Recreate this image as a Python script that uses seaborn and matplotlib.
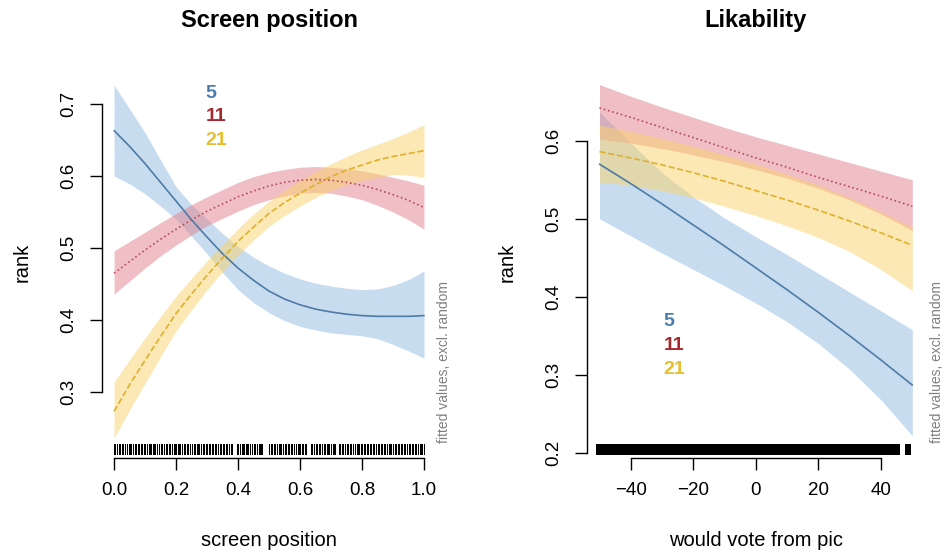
import matplotlib
matplotlib.use("Agg")
import matplotlib.pyplot as plt
import seaborn as sns

sns.set_theme(style="white")
plt.rcParams['font.family'] = ['Liberation Sans', 'DejaVu Sans']
plt.rcParams['text.color'] = 'black'
plt.rcParams['xtick.color'] = 'black'
plt.rcParams['ytick.color'] = 'black'

# ---- data: left panel (screen position) ----
pos_x = [0.00, 0.05, 0.10, 0.15, 0.20, 0.25, 0.30, 0.35, 0.40, 0.45, 0.50,
         0.55, 0.60, 0.65, 0.70, 0.75, 0.80, 0.85, 0.90, 0.95, 1.00]

pos_fit_5 = [0.663, 0.641, 0.617, 0.591, 0.565, 0.539, 0.515, 0.492, 0.472, 0.455, 0.440,
             0.429, 0.421, 0.415, 0.411, 0.408, 0.406, 0.405, 0.405, 0.405, 0.406]
pos_hi_5 = [0.726, 0.693, 0.660, 0.622, 0.585, 0.560, 0.540, 0.520, 0.502, 0.487, 0.475,
            0.465, 0.457, 0.451, 0.447, 0.444, 0.442, 0.443, 0.448, 0.456, 0.468]
pos_lo_5 = [0.600, 0.589, 0.575, 0.558, 0.540, 0.516, 0.492, 0.466, 0.442, 0.424, 0.410,
            0.399, 0.391, 0.386, 0.382, 0.380, 0.378, 0.374, 0.366, 0.357, 0.347]

pos_fit_11 = [0.465, 0.481, 0.497, 0.512, 0.526, 0.539, 0.551, 0.561, 0.571, 0.579, 0.586,
              0.591, 0.594, 0.595, 0.594, 0.591, 0.587, 0.581, 0.574, 0.566, 0.556]
pos_hi_11 = [0.496, 0.509, 0.522, 0.535, 0.548, 0.560, 0.571, 0.581, 0.591, 0.599, 0.605,
             0.609, 0.612, 0.613, 0.612, 0.610, 0.607, 0.603, 0.598, 0.593, 0.587]
pos_lo_11 = [0.436, 0.454, 0.472, 0.489, 0.504, 0.518, 0.531, 0.541, 0.551, 0.560, 0.567,
             0.572, 0.576, 0.577, 0.576, 0.572, 0.567, 0.559, 0.550, 0.539, 0.526]

pos_fit_21 = [0.273, 0.310, 0.344, 0.377, 0.409, 0.436, 0.462, 0.486, 0.509, 0.529, 0.548,
              0.563, 0.576, 0.588, 0.599, 0.608, 0.615, 0.622, 0.627, 0.631, 0.635]
pos_hi_21 = [0.314, 0.345, 0.375, 0.405, 0.433, 0.458, 0.482, 0.505, 0.527, 0.547, 0.565,
             0.580, 0.594, 0.606, 0.617, 0.627, 0.636, 0.644, 0.652, 0.661, 0.671]
pos_lo_21 = [0.236, 0.275, 0.312, 0.349, 0.385, 0.414, 0.442, 0.467, 0.490, 0.511, 0.530,
             0.545, 0.558, 0.570, 0.580, 0.588, 0.594, 0.598, 0.602, 0.601, 0.598]

pos_rug = [0.000, 0.004, 0.008, 0.015, 0.020, 0.026, 0.030, 0.036, 0.041, 0.047, 0.050,
           0.056, 0.060, 0.066, 0.070, 0.076, 0.081, 0.086, 0.090, 0.095, 0.100, 0.106,
           0.112, 0.117, 0.120, 0.125, 0.129, 0.133, 0.140, 0.144, 0.150, 0.155, 0.160,
           0.166, 0.170, 0.176, 0.180, 0.187, 0.192, 0.195, 0.200, 0.205, 0.209, 0.213,
           0.220, 0.226, 0.230, 0.236, 0.240, 0.245, 0.250, 0.257, 0.262, 0.266, 0.270,
           0.275, 0.281, 0.286, 0.290, 0.295, 0.300, 0.305, 0.310, 0.316, 0.320, 0.326,
           0.330, 0.336, 0.342, 0.346, 0.350, 0.355, 0.360, 0.365, 0.370, 0.376, 0.380,
           0.396, 0.400, 0.405, 0.412, 0.416, 0.420, 0.425, 0.429, 0.433, 0.440, 0.446,
           0.450, 0.455, 0.460, 0.466, 0.470, 0.474, 0.478, 0.501, 0.506, 0.510, 0.516,
           0.520, 0.525, 0.532, 0.536, 0.540, 0.545, 0.550, 0.556, 0.561, 0.566, 0.570,
           0.575, 0.580, 0.586, 0.592, 0.596, 0.600, 0.606, 0.610, 0.615, 0.620, 0.636,
           0.640, 0.645, 0.650, 0.656, 0.660, 0.666, 0.672, 0.676, 0.680, 0.686, 0.690,
           0.695, 0.700, 0.705, 0.710, 0.714, 0.726, 0.730, 0.736, 0.740, 0.746, 0.750,
           0.755, 0.760, 0.766, 0.770, 0.776, 0.783, 0.786, 0.790, 0.796, 0.800, 0.805,
           0.810, 0.815, 0.820, 0.826, 0.830, 0.835, 0.840, 0.845, 0.850, 0.856, 0.862,
           0.866, 0.870, 0.875, 0.880, 0.886, 0.890, 0.895, 0.900, 0.906, 0.910, 0.916,
           0.920, 0.925, 0.930, 0.936, 0.940, 0.945, 0.950, 0.955, 0.960, 0.966, 0.970,
           0.975, 0.982, 0.986, 0.990, 0.995, 1.000]

# ---- data: right panel (likability) ----
vote_x = [-50, -40, -30, -20, -10, 0, 10, 20, 30, 40, 50]

vote_fit_5 = [0.570, 0.545, 0.519, 0.492, 0.465, 0.437, 0.409, 0.380, 0.350, 0.319, 0.287]
vote_hi_5 = [0.637, 0.597, 0.559, 0.528, 0.501, 0.477, 0.454, 0.430, 0.406, 0.382, 0.358]
vote_lo_5 = [0.500, 0.478, 0.456, 0.435, 0.414, 0.392, 0.368, 0.340, 0.307, 0.268, 0.222]

vote_fit_11 = [0.642, 0.630, 0.617, 0.604, 0.591, 0.578, 0.566, 0.553, 0.541, 0.529, 0.516]
vote_hi_11 = [0.672, 0.657, 0.643, 0.630, 0.617, 0.605, 0.594, 0.583, 0.572, 0.561, 0.550]
vote_lo_11 = [0.602, 0.597, 0.590, 0.582, 0.573, 0.563, 0.552, 0.539, 0.524, 0.506, 0.485]

vote_fit_21 = [0.586, 0.578, 0.569, 0.559, 0.548, 0.536, 0.524, 0.511, 0.497, 0.482, 0.466]
vote_hi_21 = [0.620, 0.612, 0.603, 0.593, 0.582, 0.570, 0.557, 0.543, 0.527, 0.509, 0.489]
vote_lo_21 = [0.547, 0.543, 0.536, 0.527, 0.516, 0.504, 0.491, 0.476, 0.458, 0.435, 0.408]

# observed answers on the -50..50 scale (very dense), plus the few high ones
vote_rug = [-50, -49, -48, -47, -46, -45, -44, -43, -42, -41, -40, -39, -38, -37, -36,
            -35, -34, -33, -32, -31, -30, -29, -28, -27, -26, -25, -24, -23, -22, -21,
            -20, -19, -18, -17, -16, -15, -14, -13, -12, -11, -10, -9, -8, -7, -6, -5,
            -4, -3, -2, -1, 0, 1, 2, 3, 4, 5, 6, 7, 8, 9, 10, 11, 12, 13, 14, 15, 16, 17,
            18, 19, 20, 21, 22, 23, 24, 25, 26, 27, 28, 29, 30, 31, 32, 33, 34, 35, 36,
            37, 38, 39, 40, 41, 42, 43, 44, 45]
vote_rug_high = [48, 49]

group_names = ["5", "11", "21"]
line_cols = ["#4e7ba6", "#b84a5a", "#deb02c"]
band_cols = ["#92bae3", "#e3818d", "#f9d36b"]
text_cols = ["#4d7bab", "#a8262e", "#e6be2e"]
line_styles = ["-", ":", "--"]

fig = plt.figure(figsize=(9.44, 5.55), dpi=100)
ax1 = fig.add_axes([0.1077, 0.1802, 0.3546, 0.6703])
ax2 = fig.add_axes([0.6218, 0.1802, 0.3579, 0.6703])


def draw_panel(ax, x, fits, his, los):
    for i in range(3):
        ax.fill_between(x, los[i], his[i], color=band_cols[i], alpha=0.5, lw=0)
    for i in range(3):
        sns.lineplot(x=x, y=fits[i], ax=ax, color=line_cols[i], lw=1.2,
                     linestyle=line_styles[i], dashes=False, estimator=None)


def draw_rug(ax, vals, lw):
    ax.vlines(vals, 0.0, 0.03, transform=ax.get_xaxis_transform(),
              color="black", lw=lw, zorder=5, antialiased=False)


draw_panel(ax1, pos_x,
           [pos_fit_5, pos_fit_11, pos_fit_21],
           [pos_hi_5, pos_hi_11, pos_hi_21],
           [pos_lo_5, pos_lo_11, pos_lo_21])
draw_rug(ax1, pos_rug, 0.7)

draw_panel(ax2, vote_x,
           [vote_fit_5, vote_fit_11, vote_fit_21],
           [vote_hi_5, vote_hi_11, vote_hi_21],
           [vote_lo_5, vote_lo_11, vote_lo_21])
draw_rug(ax2, vote_rug, 3.0)
draw_rug(ax2, vote_rug_high, 1.0)

# axes limits / ticks (R base-graphics look)
ax1.set_xlim(-0.04, 1.04)
ax1.set_ylim(0.2125, 0.729)
ax1.set_xticks([0.0, 0.2, 0.4, 0.6, 0.8, 1.0])
ax1.set_xticklabels(["0.0", "0.2", "0.4", "0.6", "0.8", "1.0"])
ax1.set_yticks([0.3, 0.4, 0.5, 0.6, 0.7])
ax1.set_yticklabels(["0.3", "0.4", "0.5", "0.6", "0.7"])

ax2.set_xlim(-54, 54)
ax2.set_ylim(0.1974, 0.674)
ax2.set_xticks([-40, -20, 0, 20, 40])
ax2.set_xticklabels(["\u221240", "\u221220", "0", "20", "40"])
ax2.set_yticks([0.2, 0.3, 0.4, 0.5, 0.6])
ax2.set_yticklabels(["0.2", "0.3", "0.4", "0.5", "0.6"])

for ax, xb, yb in [(ax1, (0, 1), (0.3, 0.7)), (ax2, (-40, 40), (0.2, 0.6))]:
    sns.despine(ax=ax)
    ax.spines["left"].set_bounds(*yb)
    ax.spines["bottom"].set_bounds(*xb)
    ax.spines["bottom"].set_position(("outward", 2))
    for s in ["left", "bottom"]:
        ax.spines[s].set_color("black")
        ax.spines[s].set_linewidth(1.0)
    ax.tick_params(axis="both", direction="out", length=8.5, width=1.0,
                   color="black", labelcolor="black", labelsize=13.5, pad=9,
                   bottom=True, left=True)
    ax.tick_params(axis="y", labelrotation=90)
    for lbl in ax.get_yticklabels():
        lbl.set_va("center")
    ax.set_xlabel("")
    ax.set_ylabel("")
    ax.grid(False)

# group labels
for i, name in enumerate(group_names):
    ax1.text(0.295, 0.715 - i * 0.0326, name, color=text_cols[i],
             fontsize=14, fontweight="bold", ha="left", va="center")
    ax2.text(-29.5, 0.368 - i * 0.0305, name, color=text_cols[i],
             fontsize=14, fontweight="bold", ha="left", va="center")

# side note
ax1.text(1.065, 0.229, "fitted values, excl. random", rotation=90, fontsize=10,
         color="#808080", ha="center", va="bottom", clip_on=False)
ax2.text(57.8, 0.213, "fitted values, excl. random", rotation=90, fontsize=10,
         color="#808080", ha="center", va="bottom", clip_on=False)

# titles and axis labels
fig.text(0.285, 1 - 20 / 555, "Screen position", ha="center", va="center",
         fontsize=17, fontweight="bold")
fig.text(0.8008, 1 - 20 / 555, "Likability", ha="center", va="center",
         fontsize=17, fontweight="bold")
fig.text(0.285, 1 - 540 / 555, "screen position", ha="center", va="center", fontsize=14.5)
fig.text(0.8008, 1 - 540 / 555, "would vote from pic", ha="center", va="center", fontsize=14.5)
fig.text(22 / 944, 1 - 262 / 555, "rank", rotation=90, ha="center", va="center", fontsize=14.5)
fig.text(507 / 944, 1 - 262 / 555, "rank", rotation=90, ha="center", va="center", fontsize=14.5)

fig.savefig("out.png", dpi=100)
